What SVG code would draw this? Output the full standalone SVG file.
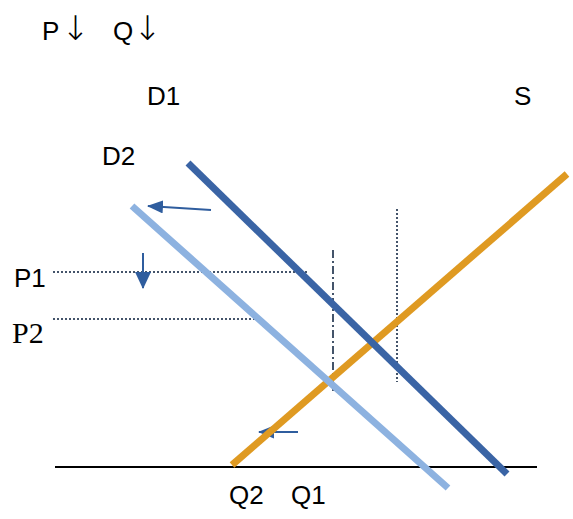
<svg xmlns="http://www.w3.org/2000/svg" width="573" height="519" viewBox="0 0 573 519">
<defs>
<marker id="ah" viewBox="0 0 16 13" refX="15" refY="6.5" markerWidth="16" markerHeight="13" orient="auto" markerUnits="userSpaceOnUse">
<path d="M0,0 L16,6.5 L0,13 z" fill="#2F5D9E"/>
</marker>
<marker id="ahd" viewBox="0 0 17 16" refX="16" refY="8" markerWidth="17" markerHeight="16" orient="auto" markerUnits="userSpaceOnUse">
<path d="M0,0 L17,8 L0,16 z" fill="#2F5D9E"/>
</marker>
<style>
text{font-family:"Liberation Sans","Open Sans",sans-serif;font-size:26px;fill:#000}
.ar{font-family:"DejaVu Sans",sans-serif;font-size:34px;font-weight:200}
.serif{font-family:"Liberation Serif",serif;font-size:30px}
.curve{fill:none;stroke-width:7;stroke-linecap:butt}
.dot{stroke:#44546A;stroke-width:2;stroke-dasharray:2 2;fill:none}
.arr{stroke:#2F5D9E;stroke-width:2;fill:none;marker-end:url(#ah)}
</style>
</defs>
<rect width="573" height="519" fill="#fff"/>
<g id="labels">
<text x="42" y="40">P<tspan class="ar" dx="2">↓</tspan></text>
<text x="113" y="40">Q<tspan class="ar">↓</tspan></text>
</g>
<g id="axis"><line x1="55" y1="467" x2="537" y2="467" stroke="#000" stroke-width="2"/></g>
<g id="connectors">
<line class="dot" x1="53" y1="272" x2="308" y2="272"/>
<line class="dot" x1="53" y1="319" x2="257" y2="319"/>
<line x1="333" y1="250" x2="333" y2="393" stroke="#44546A" stroke-width="2" stroke-dasharray="8 3 2 3"/>
<line class="dot" x1="397" y1="209" x2="397" y2="382"/>
<line class="arr" style="marker-end:url(#ahd)" x1="143" y1="253" x2="143" y2="288"/>
<line class="arr" x1="211" y1="210" x2="148" y2="206"/>
<line class="arr" x1="298" y1="432" x2="259" y2="432"/>
</g>
<g id="S"><line class="curve" stroke="#DF9A22" x1="232" y1="465" x2="567" y2="174"/><text x="514" y="105">S</text></g>
<g id="D1"><line class="curve" stroke="#3A64A5" x1="188" y1="163" x2="507" y2="474"/><text x="147" y="105">D1</text></g>
<g id="D2"><line class="curve" stroke="#8DB2E0" x1="132" y1="206" x2="448" y2="488"/><text x="102" y="165">D2</text></g>
<g id="P1"><text x="14" y="287">P1</text></g>
<g id="P2"><text class="serif" x="12" y="343">P2</text></g>
<g id="Q2"><text x="229" y="504">Q2</text></g>
<g id="Q1"><text x="291" y="504">Q1</text></g>
</svg>
